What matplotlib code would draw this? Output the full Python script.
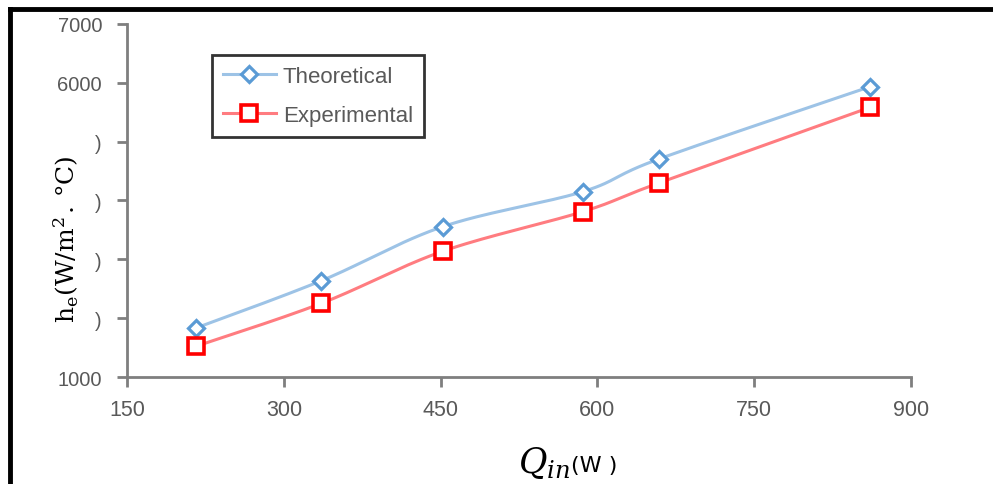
import numpy as np
import matplotlib
matplotlib.use("Agg")
import matplotlib.pyplot as plt
from matplotlib.lines import Line2D

# ---- data ----
q_in = [216, 336, 452, 586, 659, 861]
theoretical = [1833, 2637, 3555, 4150, 4706, 5935]
experimental = [1522, 2253, 3137, 3810, 4298, 5584]
xticks = [150, 300, 450, 600, 750, 900]
yticks = [1000, 2000, 3000, 4000, 5000, 6000, 7000]
# in the reference the y label hides most of the middle tick labels,
# leaving only a sliver of their last digit visible
ytick_labels = ['1000', ')', ')', ')', ')', '6000', '7000']

plt.rcParams['mathtext.fontset'] = 'dejavuserif'

def smooth(x, y, n=30):
    """Excel-like smoothed line (Catmull-Rom Bezier) through the points."""
    x = np.asarray(x, float); y = np.asarray(y, float)
    px, py = [], []
    N = len(x)
    for i in range(N - 1):
        x0, y0 = (x[i-1], y[i-1]) if i > 0 else (x[i], y[i])
        x1, y1 = x[i], y[i]
        x2, y2 = x[i+1], y[i+1]
        x3, y3 = (x[i+2], y[i+2]) if i + 2 < N else (x[i+1], y[i+1])
        c1x = x1 + (x2 - x0) / 6; c1y = y1 + (y2 - y0) / 6
        c2x = x2 - (x3 - x1) / 6; c2y = y2 - (y3 - y1) / 6
        t = np.linspace(0, 1, n)
        bx = (1-t)**3*x1 + 3*(1-t)**2*t*c1x + 3*(1-t)*t**2*c2x + t**3*x2
        by = (1-t)**3*y1 + 3*(1-t)**2*t*c1y + 3*(1-t)*t**2*c2y + t**3*y2
        px.extend(bx); py.extend(by)
    return px, py

fig = plt.figure(figsize=(9.93, 4.85), dpi=100)
ax = fig.add_axes([0.1279, 0.2206, 0.7895, 0.7279])

blue_line = '#9DC3E6'
blue_mk = '#5B9BD5'
red_line = '#FF7C80'
red_mk = '#FF0000'

sx, sy = smooth(q_in, theoretical)
ax.plot(sx, sy, color=blue_line, lw=2.2, zorder=2)
ax.plot(q_in, theoretical, ls='none', marker='D', ms=8.5, mfc='white',
        mec=blue_mk, mew=2.3, zorder=4)
sx, sy = smooth(q_in, experimental)
ax.plot(sx, sy, color=red_line, lw=2.2, zorder=2)
ax.plot(q_in, experimental, ls='none', marker='s', ms=12, mfc='white',
        mec=red_mk, mew=2.6, zorder=4)

ax.set_xlim(150, 900)
ax.set_ylim(1000, 7000)
ax.set_xticks(xticks)
ax.set_yticks(yticks)
ax.set_xticklabels([str(v) for v in xticks], family='Liberation Sans',
                   fontsize=15.5, color='#595959')
ax.set_yticklabels(ytick_labels, family='Liberation Sans',
                   fontsize=14.5, color='#595959')
for s in ['top', 'right']:
    ax.spines[s].set_visible(False)
for s in ['left', 'bottom']:
    ax.spines[s].set_color('#7F7F7F')
    ax.spines[s].set_linewidth(2)
ax.tick_params(axis='y', direction='out', length=7, width=2, color='#7F7F7F', pad=11)
ax.tick_params(axis='x', direction='out', length=7, width=2, color='#7F7F7F', pad=9)

# legend
handles = [
    Line2D([], [], color=blue_line, lw=2.2, marker='D', ms=8.5, mfc='white',
           mec=blue_mk, mew=2.3),
    Line2D([], [], color=red_line, lw=2.2, marker='s', ms=12, mfc='white',
           mec=red_mk, mew=2.6),
]
leg = ax.legend(handles, ['Theoretical', 'Experimental'],
                loc='upper left', bbox_to_anchor=(0.108, 0.913),
                prop={'family': 'Liberation Sans', 'size': 16},
                frameon=True, fancybox=False, edgecolor='black',
                handlelength=2.4, handletextpad=0.3, labelspacing=0.8,
                borderpad=0.5, borderaxespad=0)
leg.get_frame().set_linewidth(2)
for t in leg.get_texts():
    t.set_color('#595959')

# y label
fig.text(0.0665, 0.507, r'$\mathrm{h_e(W/m^2\!\;.\,°C)}$', rotation=90,
         ha='center', va='center', fontsize=18, color='black')

# x label
fig.text(0.574, 0.045, r'$Q_{in}$', ha='right', va='center', fontsize=25,
         color='black')
fig.text(0.575, 0.040, '(W )', ha='left', va='center', fontsize=16,
         color='black', family='DejaVu Sans')

# figure frame (top and left)
fig.add_artist(Line2D([0.0101, 1.0], [0.979, 0.979], transform=fig.transFigure,
                      color='black', lw=3.5))
fig.add_artist(Line2D([0.0101, 0.0101], [0.0, 0.979], transform=fig.transFigure,
                      color='black', lw=3.5))

fig.savefig('out.png', dpi=100)
